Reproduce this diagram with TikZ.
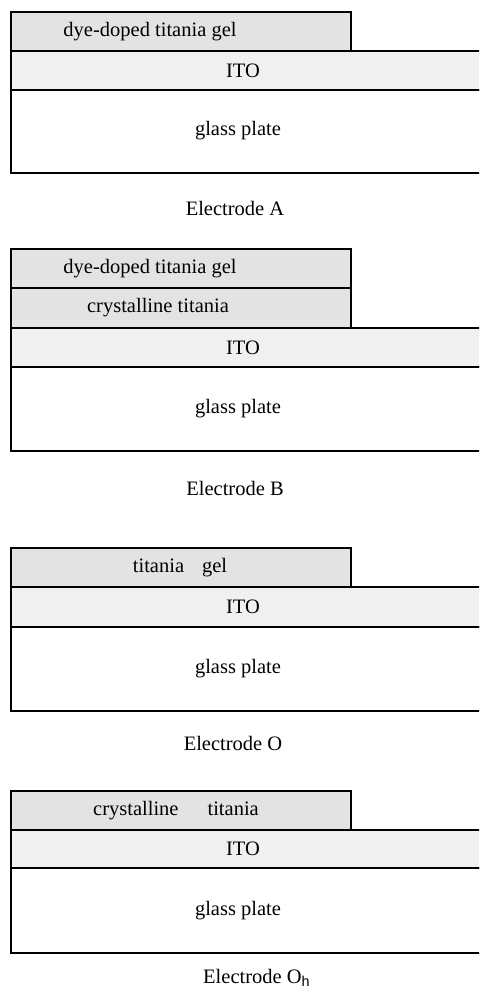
\documentclass[tikz,border=0pt]{standalone}
\usepackage{fontspec}
\setmainfont{Liberation Serif}
\newfontfamily\subsans{Liberation Sans}
\begin{document}
\begin{tikzpicture}[x=1pt,y=-1pt,
  layer/.style={draw=black,line width=1.8pt},
  gelfill/.style={layer,fill=black!11},
  itofill/.style={layer,fill=black!6},
  glassfill/.style={layer,fill=white},
  lab/.style={font=\fontsize{20.5}{22}\selectfont,inner sep=0pt}]
\useasboundingbox (0,0) rectangle (479,992);
\clip (0,0) rectangle (479,992);
% Electrode A
\draw[glassfill] (11,90) rectangle (490,173);
\draw[itofill] (11,51) rectangle (490,90);
\draw[gelfill] (11,12) rectangle (351,51);
\node[lab] (a1) at (150,32) {dye-doped titania gel};
\node[lab] (a2) at (243,71) {ITO};
\node[lab] (a3) at (238,131) {glass plate};
\node[lab] (aL) at (235,208) {Electrode A};
% Electrode B
\draw[glassfill] (11,367) rectangle (490,451);
\draw[itofill] (11,328) rectangle (490,367);
\draw[gelfill] (11,288) rectangle (351,328);
\draw[gelfill] (11,249) rectangle (351,288);
\node[lab] (b1) at (150,269) {dye-doped titania gel};
\node[lab] (b2) at (158,308) {crystalline titania};
\node[lab] (b3) at (243,348) {ITO};
\node[lab] (b4) at (238,409) {glass plate};
\node[lab] (bL) at (235,488) {Electrode B};
% Electrode O
\draw[glassfill] (11,627) rectangle (490,711);
\draw[itofill] (11,587) rectangle (490,627);
\draw[gelfill] (11,548) rectangle (351,587);
\node[lab] (o1) at (180,568) {titania\hspace{18pt}gel};
\node[lab] (o2) at (243,607) {ITO};
\node[lab] (o3) at (238,669) {glass plate};
\node[lab] (oL) at (233,743) {Electrode O};
% Electrode Oh
\draw[glassfill] (11,868) rectangle (490,953);
\draw[itofill] (11,830) rectangle (490,868);
\draw[gelfill] (11,791) rectangle (351,830);
\node[lab] (h1) at (176,811) {crystalline\hspace{29pt}titania};
\node[lab] (h2) at (243,849) {ITO};
\node[lab] (h3) at (238,911) {glass plate};
\node[lab,anchor=base west] (hL) at (203,983) {Electrode O\textsubscript{\subsans h}};
\end{tikzpicture}
\end{document}
